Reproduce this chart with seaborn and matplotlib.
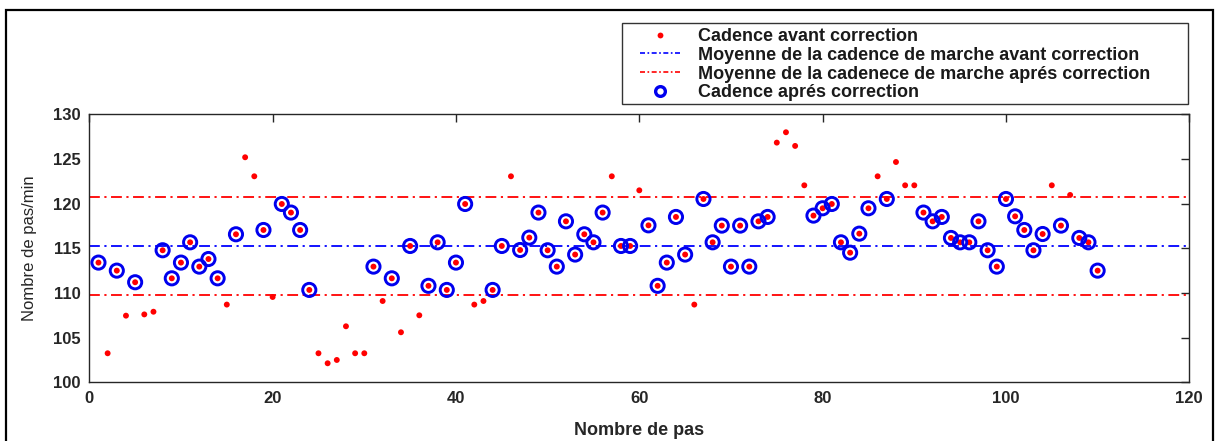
import matplotlib
matplotlib.use("Agg")
import matplotlib.pyplot as plt
import seaborn as sns
import pandas as pd
import numpy as np
from matplotlib.lines import Line2D
from matplotlib.patches import Rectangle

# ---------------- data ----------------
pas = list(range(1, 111))
cadence_avant = [
    113.4, 103.25, 112.5, 107.46, 111.2, 107.6, 107.9, 114.78, 111.64, 113.4,
    115.67, 112.95, 113.8, 111.64, 108.7, 116.57, 125.19, 123.06, 117.05, 109.55,
    119.96, 119.0, 117.05, 110.34, 103.25, 102.13, 102.5, 106.27, 103.25, 103.25,
    112.95, 109.1, 111.64, 105.6, 115.26, 107.5, 110.8, 115.67, 110.34, 113.4,
    119.96, 108.7, 109.1, 110.34, 115.26, 123.06, 114.81, 116.2, 119.0, 114.78,
    112.95, 118.02, 114.3, 116.57, 115.67, 119.0, 123.06, 115.26, 115.26, 121.49,
    117.57, 110.8, 113.4, 118.51, 114.3, 108.7, 120.52, 115.67, 117.54, 112.95,
    117.54, 112.95, 118.02, 118.51, 126.83, 127.99, 126.46, 122.05, 118.66, 119.48,
    119.96, 115.67, 114.51, 116.64, 119.48, 123.06, 120.52, 124.66, 122.05, 122.05,
    119.0, 118.02, 118.51, 116.16, 115.67, 115.67, 118.02, 114.78, 112.95, 120.52,
    118.58, 117.05, 114.78, 116.6, 122.05, 117.54, 120.97, 116.16, 115.67, 112.5,
]
# steps removed by the correction (red dots without a blue circle)
pas_rejetes = [2, 4, 6, 7, 15, 17, 18, 20, 25, 26, 27, 28, 29, 30, 32, 34, 36,
               42, 43, 46, 57, 60, 66, 75, 76, 77, 78, 86, 88, 89, 90, 105, 107]
moyenne_avant = 115.26
moyenne_apres_haut = 120.71
moyenne_apres_bas = 109.78

labels = ["Cadence avant correction",
          "Moyenne de la cadence de marche avant correction",
          "Moyenne de la cadenece de marche aprés correction",
          "Cadence aprés correction"]
xticks = [0, 20, 40, 60, 80, 100, 120]
yticks = [100, 105, 110, 115, 120, 125, 130]

df = pd.DataFrame({"pas": pas, "cadence": cadence_avant})
df_apres = df[~df["pas"].isin(pas_rejetes)]

# ---------------- style ----------------
sns.set_style("white")
plt.rcParams["font.family"] = ["Liberation Sans", "DejaVu Sans"]

W, H = 1217, 441
fig = plt.figure(figsize=(W / 100, H / 100), dpi=100)
ax = fig.add_axes([89.3 / W, 1 - 382.3 / H, 1100 / W, 268 / H])

sns.scatterplot(data=df, x="pas", y="cadence", ax=ax, color="#ff0000",
                s=18, edgecolor="none", marker="o", zorder=3, legend=False)
sns.scatterplot(data=df_apres, x="pas", y="cadence", ax=ax, s=90,
                facecolor="none", edgecolor="#0000ee", linewidth=2.1,
                marker="o", zorder=4, legend=False)

dashdot = (0, (6, 2.5, 1.2, 2.5))
ax.axhline(moyenne_avant, color="#0000ff", ls=dashdot, lw=1.3, zorder=2)
ax.axhline(moyenne_apres_haut, color="#ff0000", ls=dashdot, lw=1.3, zorder=2)
ax.axhline(moyenne_apres_bas, color="#ff0000", ls=dashdot, lw=1.3, zorder=2)

ax.set_xlim(0, 120)
ax.set_ylim(100, 130)
ax.set_xticks(xticks)
ax.set_yticks(yticks)
ax.tick_params(direction="in", length=6, width=1, top=True, right=True,
               labelsize=12, colors="#262626", pad=6)
for lab in ax.get_xticklabels() + ax.get_yticklabels():
    lab.set_fontweight("bold")
for sp in ax.spines.values():
    sp.set_color("#262626")
    sp.set_linewidth(1.0)

ax.set_xlabel("Nombre de pas", fontsize=13, fontweight="bold", color="#262626", labelpad=12)
ax.set_ylabel("Nombre de pas/min", fontsize=12, color="#262626", labelpad=12)

handles = [
    Line2D([], [], ls="none", marker="o", color="#ff0000", markersize=4.2, mec="none"),
    Line2D([], [], color="#0000ff", ls=(0, (3, 1.5, 1, 1.5)), lw=1.2),
    Line2D([], [], color="#ff0000", ls=(0, (3, 1.5, 1, 1.5)), lw=1.2),
    Line2D([], [], ls="none", marker="o", mfc="none", mec="#0000ee", mew=2.4, markersize=7),
]
leg = fig.legend(handles, labels, loc="upper left",
                 bbox_to_anchor=(640 / W, 1 - 28 / H),
                 frameon=False, prop={"weight": "bold", "size": 13},
                 handlelength=2.2, handletextpad=1.0, labelspacing=0.1,
                 borderpad=0, borderaxespad=0)
for t in leg.get_texts():
    t.set_color("#1a1a1a")

# legend frame
fig.patches.append(Rectangle((622 / W, 1 - 104 / H), (1188 - 622) / W, 81 / H,
                             transform=fig.transFigure, fill=False,
                             edgecolor="#333333", linewidth=1.0))
# outer frame of the figure
fig.patches.append(Rectangle((6 / W, -0.2), (1213 - 6) / W, 1.2 - 10 / H,
                             transform=fig.transFigure, fill=False,
                             edgecolor="black", linewidth=1.6))

fig.savefig("out.png", dpi=100)
